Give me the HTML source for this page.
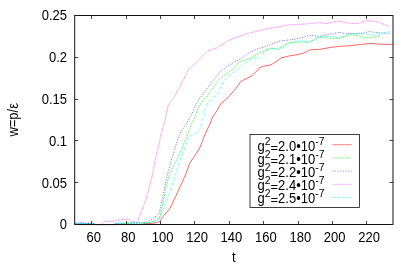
<!DOCTYPE html>
<html><head><meta charset="utf-8"><title>plot</title>
<style>
html,body{margin:0;padding:0;background:#fff;}
body{width:415px;height:264px;overflow:hidden;}
svg{display:block;will-change:transform;}
text{font-family:"Liberation Sans",sans-serif;fill:#000;}
</style></head><body>
<svg width="415" height="264" viewBox="0 0 415 264">
<rect x="0" y="0" width="415" height="264" fill="#fff"/>
<g fill="none" stroke-width="0.6" stroke-linejoin="round">
<polyline points="75.0,224.6 140.0,224.6 146.0,223.6 151.2,223.5 157.8,222.1 159.8,221.3 163.3,216.2 169.4,209.1 171.9,204.6 174.0,200.0 182.0,182.6 185.8,174.0 189.7,163.2 194.2,156.6 199.8,148.0 204.2,136.2 210.8,122.0 212.2,118.0 217.8,109.2 220.8,103.6 226.4,99.1 229.5,95.8 232.9,92.0 236.1,88.2 240.7,81.6 246.2,78.6 251.3,76.1 257.9,70.0 259.4,67.7 263.4,66.2 268.0,65.4 271.0,64.8 275.7,62.0 281.2,57.8 290.3,55.7 297.4,54.7 303.5,53.2 310.1,49.8 320.2,49.3 330.4,47.4 336.0,46.8 342.0,46.2 349.2,45.8 360.3,44.5 371.4,43.3 373.1,43.3 377.2,44.1 393.0,44.5" stroke="#ff0000"/>
<polyline points="75.0,223.4 94.0,223.4 95.0,224.6 114.5,224.6 115.5,223.4 149.2,222.8 154.2,220.7 158.8,218.7 160.3,215.2 161.8,208.1 163.1,202.0 163.6,200.0 166.8,184.1 169.4,174.0 175.3,162.2 182.4,148.0 186.4,136.4 190.5,127.1 192.4,122.0 195.4,115.2 198.2,108.2 202.1,101.6 206.9,96.0 209.7,92.0 215.3,84.7 219.3,79.2 221.9,76.9 227.0,73.6 233.4,68.5 238.1,62.7 241.2,61.2 247.3,59.6 252.3,57.1 259.9,52.6 262.0,51.7 267.1,49.7 271.1,48.1 278.2,49.2 282.2,46.1 289.3,42.6 295.4,42.1 305.1,42.2 309.1,42.5 314.2,39.6 319.2,37.6 324.3,37.1 329.4,38.3 336.4,38.3 339.1,38.7 344.1,36.7 351.2,34.3 356.3,35.7 363.4,37.4 369.4,38.0 375.2,36.7 380.7,35.2" stroke="#00ff00" stroke-dasharray="2.2 0.9"/>
<polyline points="75.0,223.4 94.0,223.4 95.0,224.6 114.5,224.6 115.5,223.4 146.1,222.8 151.2,219.7 157.3,215.2 159.5,212.7 160.3,208.1 161.3,203.0 162.3,200.0 165.3,184.1 167.5,174.5 171.3,160.1 175.0,148.0 178.3,137.7 180.8,132.1 184.4,126.6 187.3,122.0 191.4,114.7 194.9,107.1 199.2,99.0 201.7,96.0 204.6,92.0 212.2,81.7 215.8,77.3 220.3,71.6 222.4,70.0 227.0,66.4 231.1,63.7 236.1,61.2 240.7,59.1 246.2,54.6 251.3,51.5 258.4,48.5 262.0,47.6 268.1,45.6 274.1,43.1 280.2,41.1 288.3,40.0 295.4,39.0 300.0,38.1 304.0,37.2 308.6,35.3 314.2,35.6 318.2,36.6 324.3,35.3 330.4,34.1 334.0,33.3 339.1,32.3 344.1,33.3 354.2,33.6 363.4,33.1 368.5,31.6 373.1,32.1 382.2,33.1 389.8,33.3" stroke="#0000ff" stroke-dasharray="1 1.6"/>
<polyline points="75.0,223.4 78.0,223.2 81.1,222.2 85.0,223.3 94.0,223.4 95.0,224.6 101.4,224.4 104.4,221.4 116.1,221.0 123.2,219.2 127.8,219.2 131.3,221.2 136.8,222.4 138.0,220.2 141.1,212.1 145.8,200.0 150.1,184.1 152.7,174.0 155.6,158.1 158.2,148.0 161.6,132.1 164.7,122.0 166.6,112.2 168.3,104.6 171.1,101.6 174.7,96.0 180.1,86.2 184.2,78.1 188.2,70.0 196.1,62.7 207.8,50.9 212.3,49.3 216.4,48.0 220.0,45.8 223.4,44.0 228.1,40.7 238.2,36.7 248.3,33.3 260.0,30.4 268.1,28.7 276.2,27.2 285.3,25.3 293.4,24.6 300.0,24.3 306.1,24.0 311.1,23.2 315.2,23.4 318.2,22.3 323.3,23.2 327.3,23.4 332.4,22.3 337.4,21.1 342.0,21.7 346.1,22.7 351.1,23.4 358.2,23.4 363.3,21.6 368.3,20.3 372.4,21.3 377.4,21.9 382.0,23.7 388.8,26.3" stroke="#ff00ff" stroke-dasharray="0.7 0.6"/>
<polyline points="75.0,223.4 94.0,223.4 95.0,224.6 114.5,224.6 115.5,223.4 151.2,222.5 156.2,220.2 159.8,218.2 161.8,213.2 164.3,206.1 166.8,200.0 171.4,187.2 175.8,174.0 179.4,161.2 184.9,148.0 187.2,141.0 189.2,136.7 191.5,135.2 194.1,134.1 198.2,132.1 200.0,129.1 201.7,122.0 203.6,118.0 204.6,112.2 206.1,105.2 208.1,102.6 212.2,99.6 215.2,95.5 218.5,92.0 220.8,86.7 223.4,81.2 226.9,78.1 231.6,73.8 236.1,70.8 242.2,65.7 247.3,61.7 250.8,59.1 254.3,58.1 258.9,58.6 262.4,55.1 265.0,51.2 268.6,48.7 273.1,48.3 278.2,49.7 283.3,47.6 287.3,44.1 292.4,42.6 297.4,41.1 300.0,40.7 304.0,41.2 309.1,42.5 314.2,39.6 318.2,36.9 324.3,36.3 330.4,36.3 335.4,37.3 339.1,37.7 343.1,36.2 347.2,34.7 352.2,33.3 359.3,33.6 365.4,34.3 371.1,35.2 377.2,33.9 384.3,32.9 390.3,31.6" stroke="#00ffff" stroke-dasharray="2.6 1 0.6 1.1"/>
</g>
<rect x="74.7" y="15.5" width="318.3" height="209.0" stroke="#111" stroke-width="1" fill="none"/>
<g stroke="#222" stroke-width="0.85" fill="none">
<path d="M91.5 224.5v-3.5M91.5 15.5v3.5"/>
<path d="M126.5 224.5v-3.5M126.5 15.5v3.5"/>
<path d="M160.5 224.5v-3.5M160.5 15.5v3.5"/>
<path d="M194.5 224.5v-3.5M194.5 15.5v3.5"/>
<path d="M229.5 224.5v-3.5M229.5 15.5v3.5"/>
<path d="M263.5 224.5v-3.5M263.5 15.5v3.5"/>
<path d="M298.5 224.5v-3.5M298.5 15.5v3.5"/>
<path d="M332.5 224.5v-3.5M332.5 15.5v3.5"/>
<path d="M366.5 224.5v-3.5M366.5 15.5v3.5"/>
<path d="M74.7 224.5h3.5M393.0 224.5h-3.5"/>
<path d="M74.7 182.5h3.5M393.0 182.5h-3.5"/>
<path d="M74.7 140.5h3.5M393.0 140.5h-3.5"/>
<path d="M74.7 99.5h3.5M393.0 99.5h-3.5"/>
<path d="M74.7 57.5h3.5M393.0 57.5h-3.5"/>
<path d="M74.7 15.5h3.5M393.0 15.5h-3.5"/>
</g>
<text transform="translate(93.81 242.40) scale(1 1.07)" font-size="13" text-anchor="middle">60</text>
<text transform="translate(128.22 242.40) scale(1 1.07)" font-size="13" text-anchor="middle">80</text>
<text transform="translate(162.63 242.40) scale(1 1.07)" font-size="13" text-anchor="middle">100</text>
<text transform="translate(197.04 242.40) scale(1 1.07)" font-size="13" text-anchor="middle">120</text>
<text transform="translate(231.45 242.40) scale(1 1.07)" font-size="13" text-anchor="middle">140</text>
<text transform="translate(265.86 242.40) scale(1 1.07)" font-size="13" text-anchor="middle">160</text>
<text transform="translate(300.27 242.40) scale(1 1.07)" font-size="13" text-anchor="middle">180</text>
<text transform="translate(334.68 242.40) scale(1 1.07)" font-size="13" text-anchor="middle">200</text>
<text transform="translate(369.09 242.40) scale(1 1.07)" font-size="13" text-anchor="middle">220</text>
<text transform="translate(67.00 229.40) scale(1 1.07)" font-size="13" text-anchor="end">0</text>
<text transform="translate(67.00 187.60) scale(1 1.07)" font-size="13" text-anchor="end">0.05</text>
<text transform="translate(67.00 145.80) scale(1 1.07)" font-size="13" text-anchor="end">0.1</text>
<text transform="translate(67.00 104.00) scale(1 1.07)" font-size="13" text-anchor="end">0.15</text>
<text transform="translate(67.00 62.20) scale(1 1.07)" font-size="13" text-anchor="end">0.2</text>
<text transform="translate(67.00 20.40) scale(1 1.07)" font-size="13" text-anchor="end">0.25</text>
<text transform="translate(233.70 262.30) scale(1 1.07)" font-size="13" text-anchor="middle">t</text>
<text transform="translate(17.60 119.80) rotate(-90) scale(1 1.07)" font-size="13" text-anchor="middle">w=p/&#949;</text>
<rect x="250" y="134.5" width="109.5" height="72.9" fill="#fff" stroke="#000" stroke-width="0.75"/>
<text transform="translate(257.50 150.80) scale(1 1.07)" font-size="13" text-anchor="start">g</text>
<text transform="translate(264.73 144.60) scale(1 0.98)" font-size="10.4" text-anchor="start">2</text>
<text transform="translate(270.51 152.10) scale(1 0.95)" font-size="13" text-anchor="start">=</text>
<text transform="translate(278.10 150.80) scale(1 1.07)" font-size="13" text-anchor="start">2.0&#8226;10</text>
<text transform="translate(315.18 144.60) scale(1 0.98)" font-size="10.4" text-anchor="start">-7</text>
<path d="M332.5 144.70H351.7" stroke="#ff0000" stroke-width="0.5" fill="none"/>
<text transform="translate(257.50 163.80) scale(1 1.07)" font-size="13" text-anchor="start">g</text>
<text transform="translate(264.73 157.60) scale(1 0.98)" font-size="10.4" text-anchor="start">2</text>
<text transform="translate(270.51 165.10) scale(1 0.95)" font-size="13" text-anchor="start">=</text>
<text transform="translate(278.10 163.80) scale(1 1.07)" font-size="13" text-anchor="start">2.1&#8226;10</text>
<text transform="translate(315.18 157.60) scale(1 0.98)" font-size="10.4" text-anchor="start">-7</text>
<path d="M332.5 157.90H351.7" stroke="#00ff00" stroke-width="0.5" fill="none" stroke-dasharray="2.2 0.9"/>
<text transform="translate(257.50 176.80) scale(1 1.07)" font-size="13" text-anchor="start">g</text>
<text transform="translate(264.73 170.60) scale(1 0.98)" font-size="10.4" text-anchor="start">2</text>
<text transform="translate(270.51 178.10) scale(1 0.95)" font-size="13" text-anchor="start">=</text>
<text transform="translate(278.10 176.80) scale(1 1.07)" font-size="13" text-anchor="start">2.2&#8226;10</text>
<text transform="translate(315.18 170.60) scale(1 0.98)" font-size="10.4" text-anchor="start">-7</text>
<path d="M332.5 171.10H351.7" stroke="#0000ff" stroke-width="0.5" fill="none" stroke-dasharray="1 1.6"/>
<text transform="translate(257.50 189.80) scale(1 1.07)" font-size="13" text-anchor="start">g</text>
<text transform="translate(264.73 183.60) scale(1 0.98)" font-size="10.4" text-anchor="start">2</text>
<text transform="translate(270.51 191.10) scale(1 0.95)" font-size="13" text-anchor="start">=</text>
<text transform="translate(278.10 189.80) scale(1 1.07)" font-size="13" text-anchor="start">2.4&#8226;10</text>
<text transform="translate(315.18 183.60) scale(1 0.98)" font-size="10.4" text-anchor="start">-7</text>
<path d="M332.5 184.30H351.7" stroke="#ff00ff" stroke-width="0.5" fill="none" stroke-dasharray="0.7 0.6"/>
<text transform="translate(257.50 202.80) scale(1 1.07)" font-size="13" text-anchor="start">g</text>
<text transform="translate(264.73 196.60) scale(1 0.98)" font-size="10.4" text-anchor="start">2</text>
<text transform="translate(270.51 204.10) scale(1 0.95)" font-size="13" text-anchor="start">=</text>
<text transform="translate(278.10 202.80) scale(1 1.07)" font-size="13" text-anchor="start">2.5&#8226;10</text>
<text transform="translate(315.18 196.60) scale(1 0.98)" font-size="10.4" text-anchor="start">-7</text>
<path d="M332.5 197.50H351.7" stroke="#00ffff" stroke-width="0.5" fill="none" stroke-dasharray="2.6 1 0.6 1.1"/>
</svg></body></html>
